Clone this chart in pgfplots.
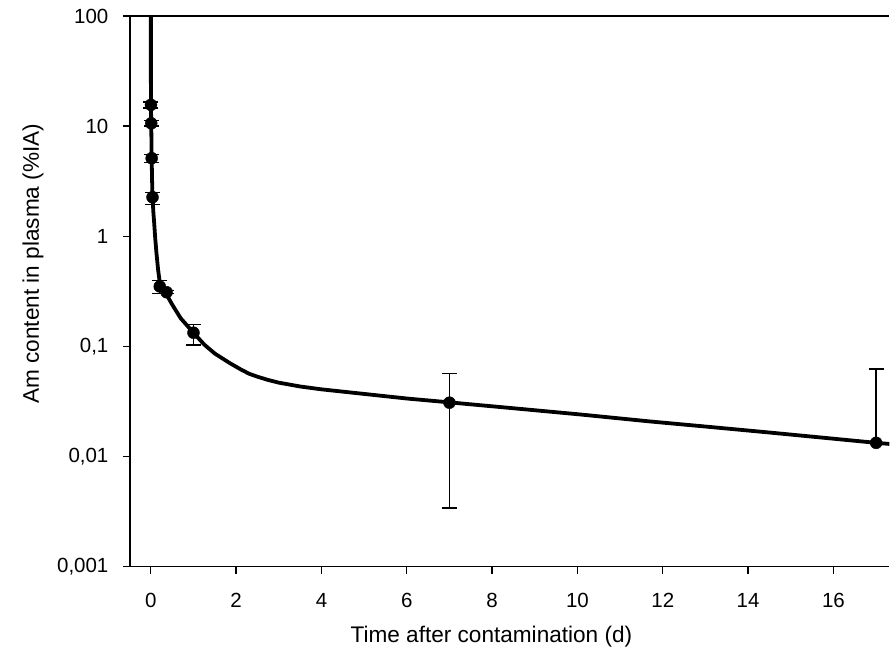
\documentclass[border=0pt]{standalone}
\usepackage{pgfplots}
\pgfplotsset{compat=1.18}
\usepackage{fontspec}
\setmainfont{Liberation Sans}

% measured points: time (d), content (%IA), error up / down
\pgfplotstableread{
x      y       ep     em
0.0035 15.6    1.0    1.0
0.01   10.6    0.6    0.6
0.02   5.11    0.45   0.45
0.04   2.26    0.24   0.32
0.21   0.35    0.045  0.05
0.37   0.31    0.01   0.01
1.0    0.133   0.024  0.030
7.0    0.0308  0.026  0.0274
}\pointdata

\pgfplotstableread{
x      y      ep
17.0   0.0133 0.049
}\lastpoint

% fitted curve
\pgfplotstableread{
x      y
0.0005 600
0.002  25
0.0035 15.6
0.01   10.6
0.02   5.1
0.03   3.2
0.04   2.26
0.06   1.65
0.08   1.3
0.1    1.0
0.13   0.72
0.17   0.50
0.21   0.38
0.27   0.33
0.37   0.295
0.5    0.24
0.7    0.18
1.0    0.133
1.25   0.104
1.5    0.086
1.85   0.0705
2.1    0.062
2.3    0.0565
2.5    0.053
2.75   0.0495
3.0    0.0468
3.5    0.0432
4.0    0.0407
4.8    0.0377
6.0    0.0336
7.0    0.031
8.5    0.0274
10.0   0.0242
11.7   0.0208
13.0   0.0187
14.5   0.0165
16.0   0.0145
17.0   0.0133
17.31  0.0130
}\curvedata

\begin{document}
\begin{tikzpicture}
\begin{axis}[
    scale only axis,
    width=760pt, height=551pt,
    xmin=-0.49, xmax=17.31,
    ymode=log, ymin=0.001, ymax=100,
    axis lines=left,
    axis line style={-, line width=1.3pt},
    xtick={0,2,...,16},
    ytick={0.001,0.01,0.1,1,10,100},
    yticklabels={{0,001},{0,01},{0,1},1,10,100},
    yminorticks=false,
    tick align=outside,
    major tick length=7pt,
    tick style={line width=1.3pt, black},
    /pgf/number format/assume math mode=true,
    ticklabel style={font=\fontsize{20.5}{24}\selectfont},
    xticklabel style={yshift=-16pt},
    yticklabel style={xshift=-11pt},
    label style={font=\fontsize{22.6}{27}\selectfont},
    xlabel={Time after contamination (d)},
    ylabel={Am content in plasma (\%IA)},
    xlabel style={at={([yshift=-70pt]axis description cs:0.476,0)}, anchor=center},
    ylabel style={at={([xshift=-97pt]axis description cs:0,0.55)}, anchor=center},
]
\coordinate (tl) at (rel axis cs:0,1);
\coordinate (tr) at (rel axis cs:1,1);
\coordinate (bl) at (rel axis cs:0,0);

\addplot[black, line width=3.8pt, no marks, line join=round] table[x=x, y=y] {\curvedata};

\addplot[black, only marks, mark=*, mark size=6pt,
    error bars/.cd, y dir=both, y explicit,
    error bar style={line width=1.3pt},
    error mark options={rotate=90, mark size=7.5pt, line width=1.3pt}]
    table[x=x, y=y, y error plus=ep, y error minus=em] {\pointdata};

\addplot[black, only marks, mark=*, mark size=6pt,
    error bars/.cd, y dir=plus, y explicit,
    error bar style={line width=1.3pt},
    error mark options={rotate=90, mark size=7.5pt, line width=1.3pt}]
    table[x=x, y=y, y error=ep] {\lastpoint};
\end{axis}
\draw[line width=1.3pt] (tl) -- (tr);
\path ([xshift=-130pt,yshift=-97pt]bl) rectangle ([yshift=16pt]tr);
\end{tikzpicture}
\end{document}
